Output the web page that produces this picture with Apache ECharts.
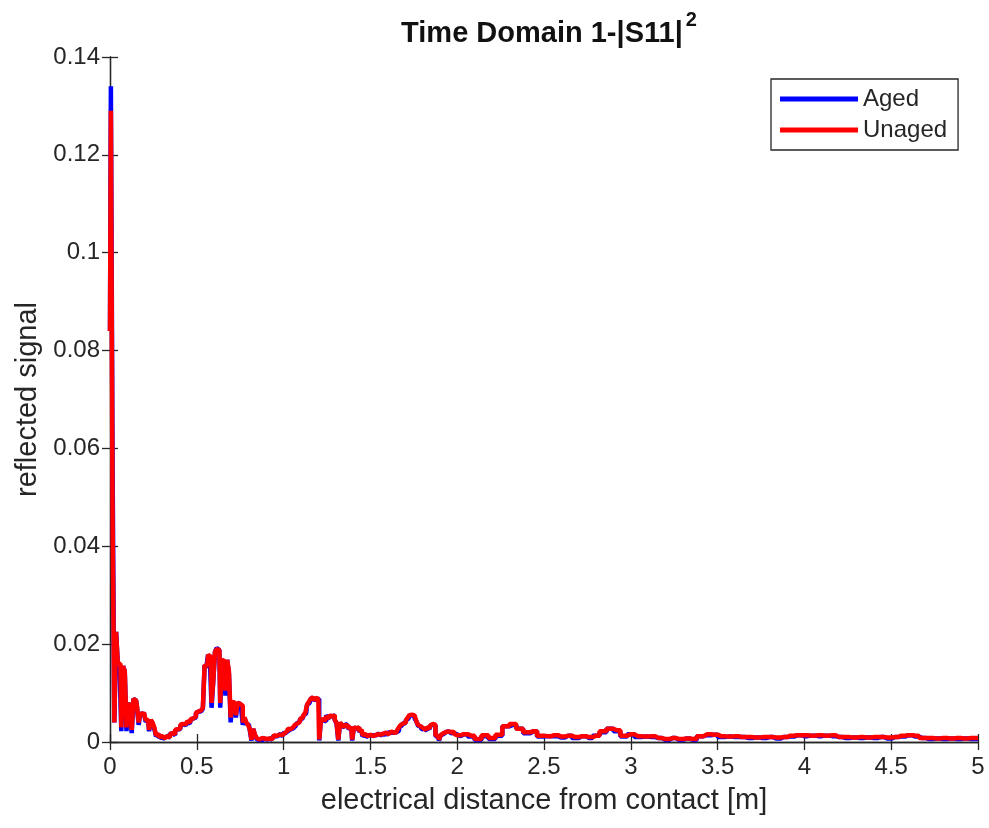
<!DOCTYPE html>
<html>
<head>
<meta charset="utf-8">
<script src="https://cdn.jsdelivr.net/npm/echarts@6/dist/echarts.min.js"></script>
<style>
  html, body { margin: 0; padding: 0; background: #fff; }
  #chart { width: 989px; height: 828px; }
</style>
</head>
<body>
<div id="chart"></div>
<script>
// Distance from contact [m]: fine spacing near the contact, coarser along the tail
const xsNear = [
  0.00, 0.01, 0.02, 0.03, 0.04, 0.05, 0.06, 0.07, 0.08, 0.09,
  0.10, 0.11, 0.12, 0.13, 0.14, 0.15, 0.16, 0.17, 0.18, 0.19,
  0.20, 0.21, 0.22, 0.23, 0.24, 0.25, 0.26, 0.27, 0.28, 0.29,
  0.30, 0.31, 0.32, 0.33, 0.34, 0.35, 0.36, 0.37, 0.38, 0.39,
  0.40, 0.41, 0.42, 0.43, 0.44, 0.45, 0.46, 0.47, 0.48, 0.49,
  0.50, 0.51, 0.52, 0.53, 0.54, 0.55, 0.56, 0.57, 0.58, 0.59,
  0.60, 0.61, 0.62, 0.63, 0.64, 0.65, 0.66, 0.67, 0.68, 0.69,
  0.70, 0.71, 0.72, 0.73, 0.74, 0.75, 0.76, 0.77, 0.78, 0.79,
  0.80, 0.81, 0.82, 0.83, 0.84, 0.85, 0.86, 0.87, 0.88, 0.89,
  0.90, 0.91, 0.92, 0.93, 0.94, 0.95, 0.96, 0.97, 0.98, 0.99,
  1.00, 1.01, 1.02, 1.03, 1.04, 1.05, 1.06, 1.07, 1.08, 1.09,
  1.10, 1.11, 1.12, 1.13, 1.14, 1.15, 1.16, 1.17, 1.18, 1.19,
  1.20, 1.21, 1.22, 1.23, 1.24, 1.25, 1.26, 1.27, 1.28, 1.29,
  1.30, 1.31, 1.32, 1.33, 1.34, 1.35, 1.36, 1.37, 1.38, 1.39,
  1.40, 1.41, 1.42, 1.43, 1.44, 1.45, 1.46, 1.47, 1.48, 1.49,
  1.50, 1.51, 1.52, 1.53, 1.54, 1.55, 1.56, 1.57, 1.58, 1.59,
  1.60, 1.61, 1.62, 1.63, 1.64, 1.65, 1.66, 1.67, 1.68, 1.69,
  1.70, 1.71, 1.72, 1.73, 1.74, 1.75, 1.76, 1.77, 1.78, 1.79,
  1.80, 1.81, 1.82, 1.83, 1.84, 1.85, 1.86, 1.87, 1.88, 1.89,
  1.90, 1.91, 1.92, 1.93, 1.94, 1.95, 1.96, 1.97, 1.98, 1.99
];
const xsFar = [
  2.00, 2.04, 2.08, 2.12, 2.16, 2.20, 2.24, 2.28, 2.32, 2.36,
  2.40, 2.44, 2.48, 2.52, 2.56, 2.60, 2.64, 2.68, 2.72, 2.76,
  2.80, 2.84, 2.88, 2.92, 2.96, 3.00, 3.04, 3.08, 3.12, 3.16,
  3.20, 3.24, 3.28, 3.32, 3.36, 3.40, 3.44, 3.48, 3.52, 3.56,
  3.60, 3.64, 3.68, 3.72, 3.76, 3.80, 3.84, 3.88, 3.92, 3.96,
  4.00, 4.04, 4.08, 4.12, 4.16, 4.20, 4.24, 4.28, 4.32, 4.36,
  4.40, 4.44, 4.48, 4.52, 4.56, 4.60, 4.64, 4.68, 4.72, 4.76,
  4.80, 4.84, 4.88, 4.92, 4.96, 5.00
];

// Reflected signal, unaged sample
const unaged = [
  0.084, 0.129, 0.045, 0.004, 0.0225, 0.016, 0.016, 0.003, 0.0155, 0.0145,
  0.003, 0.008, 0.007, 0.0025, 0.0088, 0.0085, 0.0075, 0.004, 0.006, 0.0055,
  0.006, 0.0045, 0.0045, 0.0025, 0.0045, 0.004, 0.003, 0.0014, 0.0016, 0.001,
  0.0012, 0.0008, 0.001, 0.0012, 0.0009, 0.0016, 0.0018, 0.0016, 0.0025, 0.0026,
  0.0028, 0.0035, 0.0037, 0.0036, 0.0038, 0.0042, 0.004, 0.0047, 0.0048, 0.0052,
  0.006, 0.0062, 0.0065, 0.0066, 0.007, 0.0157, 0.0155, 0.0178, 0.0175, 0.008,
  0.0125, 0.0185, 0.019, 0.0188, 0.008, 0.0168, 0.0165, 0.0105, 0.0168, 0.0145,
  0.005, 0.0082, 0.008, 0.0055, 0.008, 0.0078, 0.0074, 0.004, 0.005, 0.004,
  0.0035, 0.0027, 0.0005, 0.0027, 0.0015, 0.0008, 0.0005, 0.0008, 0.0004, 0.0007,
  0.0006, 0.0004, 0.0007, 0.0006, 0.001, 0.0014, 0.0012, 0.0015, 0.0016, 0.0014,
  0.0018, 0.002, 0.0022, 0.0027, 0.0026, 0.003, 0.0032, 0.0035, 0.0038, 0.0042,
  0.0047, 0.005, 0.0055, 0.006, 0.0076, 0.0082, 0.0088, 0.0092, 0.0085, 0.009,
  0.0088, 0.0005, 0.0045, 0.0047, 0.0042, 0.0052, 0.0048, 0.0055, 0.0052, 0.0055,
  0.0045, 0.004, 0.0005, 0.004, 0.0035, 0.003, 0.0035, 0.0033, 0.0028, 0.003,
  0.0005, 0.003, 0.0028, 0.003, 0.0022, 0.0025, 0.0014, 0.0016, 0.0012, 0.0014,
  0.0015, 0.0012, 0.0016, 0.0014, 0.0016, 0.0018, 0.0015, 0.0017, 0.0016, 0.0019,
  0.0016, 0.002, 0.0021, 0.0019, 0.0022, 0.002, 0.0025, 0.003, 0.0035, 0.0038,
  0.004, 0.0045, 0.005, 0.0055, 0.0056, 0.0054, 0.005, 0.0042, 0.0035, 0.0032,
  0.0028, 0.0027, 0.0025, 0.003, 0.0028, 0.0034, 0.0037, 0.0035, 0.0014, 0.0012,
  0.0005, 0.0014, 0.0018, 0.002, 0.0019, 0.0022, 0.002, 0.0018, 0.0021, 0.0016,
  // tail
  0.0014, 0.0016, 0.0013, 0.0006, 0.0014, 0.0008, 0.0015, 0.0032, 0.0037, 0.0027,
  0.002, 0.0022, 0.0013, 0.0012, 0.0014, 0.0011, 0.0013, 0.001, 0.0012, 0.001,
  0.0013, 0.0022, 0.0027, 0.0024, 0.0013, 0.0016, 0.0012, 0.0011, 0.0012, 0.0008,
  0.0006, 0.0008, 0.0006, 0.0007, 0.0006, 0.0012, 0.0016, 0.0015, 0.0012, 0.0011,
  0.0012, 0.001, 0.001, 0.0009, 0.001, 0.001, 0.0009, 0.001, 0.0013, 0.0014,
  0.0014, 0.0013, 0.0014, 0.0013, 0.0014, 0.001, 0.001, 0.0009, 0.001, 0.0009,
  0.001, 0.001, 0.0009, 0.001, 0.0013, 0.0014, 0.0013, 0.0008, 0.0008, 0.0007,
  0.0008, 0.0007, 0.0008, 0.0007, 0.0008, 0.0008
];

// Reflected signal, aged sample
const aged = [
  0.084, 0.134, 0.056, 0.004, 0.0225, 0.016, 0.0155, 0.0022, 0.0155, 0.0145,
  0.0022, 0.008, 0.007, 0.0018, 0.0088, 0.0085, 0.0072, 0.0035, 0.006, 0.0055,
  0.006, 0.0042, 0.0045, 0.0022, 0.0045, 0.0038, 0.0027, 0.0012, 0.0016, 0.0008,
  0.0012, 0.0006, 0.001, 0.0012, 0.0007, 0.0016, 0.0018, 0.0014, 0.0023, 0.0026,
  0.0026, 0.0033, 0.0037, 0.0034, 0.0038, 0.004, 0.0038, 0.0045, 0.0048, 0.005,
  0.0058, 0.0062, 0.0063, 0.0066, 0.0068, 0.0157, 0.0152, 0.0178, 0.0172, 0.007,
  0.0125, 0.0185, 0.0192, 0.0188, 0.007, 0.0168, 0.0162, 0.0095, 0.0168, 0.014,
  0.004, 0.0082, 0.0078, 0.005, 0.008, 0.0078, 0.007, 0.0035, 0.005, 0.0038,
  0.0035, 0.0025, 0.0003, 0.0027, 0.0013, 0.0006, 0.0003, 0.0008, 0.0003, 0.0007,
  0.0005, 0.0003, 0.0007, 0.0005, 0.001, 0.0012, 0.0012, 0.0013, 0.0016, 0.0012,
  0.0018, 0.0018, 0.0022, 0.0025, 0.0026, 0.0028, 0.0032, 0.0033, 0.0038, 0.004,
  0.0047, 0.0048, 0.0055, 0.0058, 0.0076, 0.008, 0.0088, 0.009, 0.0085, 0.0088,
  0.0088, 0.0003, 0.0045, 0.0044, 0.0042, 0.0055, 0.0048, 0.0052, 0.0052, 0.0057,
  0.0045, 0.0038, 0.0003, 0.004, 0.0033, 0.003, 0.0037, 0.0033, 0.0026, 0.003,
  0.0003, 0.003, 0.0026, 0.003, 0.002, 0.0025, 0.0012, 0.0016, 0.001, 0.0014,
  0.0013, 0.0012, 0.0014, 0.0014, 0.0014, 0.0018, 0.0013, 0.0017, 0.0014, 0.0019,
  0.0014, 0.002, 0.0019, 0.0019, 0.002, 0.002, 0.0023, 0.003, 0.0033, 0.0038,
  0.0038, 0.0045, 0.0048, 0.0055, 0.0054, 0.0054, 0.0048, 0.0042, 0.0033, 0.0032,
  0.0026, 0.0027, 0.0023, 0.003, 0.0026, 0.0034, 0.0035, 0.0035, 0.0012, 0.0012,
  0.0003, 0.0014, 0.0016, 0.002, 0.0017, 0.0022, 0.0018, 0.0018, 0.0019, 0.0016,
  // tail
  0.0012, 0.0016, 0.0011, 0.0004, 0.0012, 0.0006, 0.0013, 0.0032, 0.0035, 0.0027,
  0.0018, 0.0022, 0.0011, 0.0012, 0.0012, 0.0009, 0.0013, 0.0008, 0.0012, 0.0008,
  0.0013, 0.002, 0.0027, 0.0022, 0.0011, 0.0016, 0.001, 0.0011, 0.001, 0.0008,
  0.0004, 0.0008, 0.0004, 0.0007, 0.0004, 0.0012, 0.0014, 0.0015, 0.001, 0.0011,
  0.001, 0.001, 0.0008, 0.0009, 0.0008, 0.001, 0.0007, 0.001, 0.0011, 0.0014,
  0.0012, 0.0013, 0.0012, 0.0013, 0.0012, 0.001, 0.0008, 0.0009, 0.0008, 0.0009,
  0.0008, 0.001, 0.0007, 0.001, 0.0011, 0.0014, 0.0011, 0.0008, 0.0006, 0.0007,
  0.0006, 0.0007, 0.0006, 0.0007, 0.0006, 0.0006
];

const xTicks = { min: 0, max: 5, interval: 0.5 };
const yTicks = { min: 0, max: 0.14, interval: 0.02 };

const xs = xsNear.concat(xsFar);
const pairs = (ys) => xs.map((x, i) => [x, ys[i]]);

const FONT = '"Liberation Sans", Arial, Helvetica, sans-serif';
const INK = '#262626';

const chart = echarts.init(document.getElementById('chart'), null, { renderer: 'canvas' });

const frameAxis = {
  axisLine: { show: true, lineStyle: { color: INK, width: 1.3 } },
  axisTick: { show: true, inside: true, length: 8, lineStyle: { color: INK, width: 1.3 } },
  splitLine: { show: false }
};

chart.setOption({
  backgroundColor: '#ffffff',
  animation: false,
  title: {
    text: '{t|Time Domain 1-|S11|}{s|2}',
    left: 544,
    top: 5,
    textAlign: 'center',
    textStyle: {
      rich: {
        t: { fontFamily: FONT, fontSize: 29, fontWeight: 'bold', color: '#111', verticalAlign: 'bottom', lineHeight: 38 },
        s: { fontFamily: FONT, fontSize: 20, fontWeight: 'bold', color: '#111', verticalAlign: 'top', lineHeight: 38, padding: [0, 0, 16, 3] }
      }
    }
  },
  legend: {
    orient: 'vertical',
    left: 771,
    top: 79,
    padding: [8, 11, 8, 9],
    itemGap: 7,
    itemWidth: 78,
    itemHeight: 5,
    borderColor: INK,
    borderWidth: 1.3,
    backgroundColor: '#fff',
    textStyle: { fontFamily: FONT, fontSize: 24, color: INK, lineHeight: 24 },
    data: [
      { name: 'Aged', icon: 'rect' },
      { name: 'Unaged', icon: 'rect' }
    ]
  },
  grid: { left: 110, right: 11, top: 57, bottom: 86, containLabel: false },
  xAxis: [
    Object.assign({
      type: 'value', position: 'bottom',
      min: xTicks.min, max: xTicks.max, interval: xTicks.interval,
      name: 'electrical distance from contact [m]',
      nameLocation: 'middle', nameGap: 44,
      nameTextStyle: { fontFamily: FONT, fontSize: 29, color: INK },
      axisLabel: { fontFamily: FONT, fontSize: 24, color: INK, margin: 13 }
    }, frameAxis),
    Object.assign({
      type: 'value', position: 'top',
      min: xTicks.min, max: xTicks.max, interval: xTicks.interval,
      axisLabel: { show: false }
    }, frameAxis)
  ],
  yAxis: [
    Object.assign({
      type: 'value', position: 'left',
      min: yTicks.min, max: yTicks.max, interval: yTicks.interval,
      name: 'reflected signal',
      nameLocation: 'middle', nameGap: 64,
      nameTextStyle: { fontFamily: FONT, fontSize: 29, color: INK },
      axisLabel: { fontFamily: FONT, fontSize: 24, color: INK, margin: 10 }
    }, frameAxis),
    Object.assign({
      type: 'value', position: 'right',
      min: yTicks.min, max: yTicks.max, interval: yTicks.interval,
      axisLabel: { show: false }
    }, frameAxis)
  ],
  series: [
    {
      name: 'Aged', type: 'line', step: 'middle',
      xAxisIndex: 0, yAxisIndex: 0,
      data: pairs(aged),
      showSymbol: false, symbol: 'none',
      color: '#0000ff',
      lineStyle: { color: '#0000ff', width: 4.5 }
    },
    {
      name: 'Unaged', type: 'line', step: 'middle',
      xAxisIndex: 0, yAxisIndex: 0,
      data: pairs(unaged),
      showSymbol: false, symbol: 'none',
      color: '#ff0000',
      lineStyle: { color: '#ff0000', width: 4.5 }
    }
  ]
});
</script>
</body>
</html>
